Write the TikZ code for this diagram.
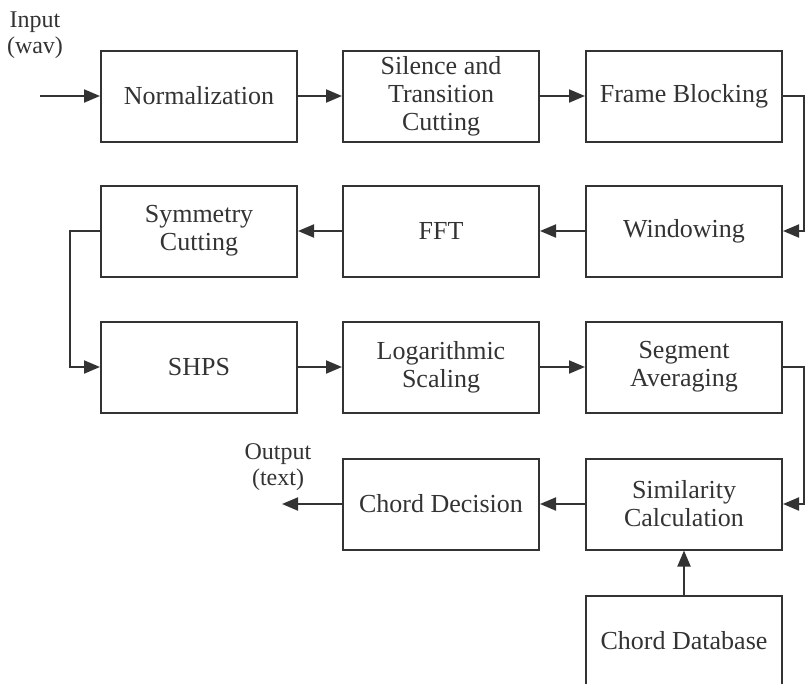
\documentclass[tikz,border=0pt]{standalone}
\usepackage{fontspec}
\setmainfont{Liberation Serif}
\usetikzlibrary{arrows.meta}
\definecolor{ink}{HTML}{333333}
\begin{document}
\begin{tikzpicture}[x=1pt,y=-1pt,
  blk/.style={draw=ink, line width=2pt, minimum width=196pt, minimum height=91pt, inner sep=0pt, align=center, text=ink,
    font=\fontsize{26}{28}\selectfont},
  lbl/.style={align=center, text=ink, inner sep=0pt, font=\fontsize{24}{26}\selectfont},
  conn/.style={draw=ink, line width=2pt},
  arr/.style={conn, -{Triangle[length=16pt,width=13pt]}}]
\useasboundingbox (0,0) rectangle (805,683);
\clip (0,0) rectangle (805,683);
\node[blk] (norm) at (199,96) {Normalization};
\node[blk] (sil) at (441,96) {Silence and\\Transition\\Cutting};
\node[blk] (frame) at (684,96) {Frame Blocking};
\node[blk] (sym) at (199,231) {Symmetry\\Cutting};
\node[blk] (fft) at (441,231) {FFT};
\node[blk] (win) at (684,231) {Windowing};
\node[blk] (shps) at (199,367) {SHPS};
\node[blk] (log) at (441,367) {Logarithmic\\Scaling};
\node[blk] (seg) at (684,367) {Segment\\Averaging};
\node[blk] (dec) at (441,504) {Chord Decision};
\node[blk] (simc) at (684,504) {Similarity\\Calculation};
\node[blk, minimum height=120pt] (db) at (684,656) {};
\node[text=ink, inner sep=0pt, font=\fontsize{26}{28}\selectfont] (dbt) at (684,641) {Chord Database};
\node[lbl] (inlbl) at (35,35) {Input\\(wav)};
\node[lbl] (outlbl) at (278,467) {Output\\(text)};
\coordinate (inst) at (40,96);
\coordinate (outend) at (282,504);
\coordinate (r1) at (804,96);
\coordinate (r2) at (804,231);
\coordinate (r3) at (804,367);
\coordinate (r4) at (804,504);
\coordinate (l1) at (70,231);
\coordinate (l2) at (70,367);
\draw[arr] (inst) -- (norm.west);
\draw[arr] (norm) -- (sil);
\draw[arr] (sil) -- (frame);
\draw[arr] (frame.east) -- (r1) -- (r2) -- (win.east);
\draw[arr] (win) -- (fft);
\draw[arr] (fft) -- (sym);
\draw[arr] (sym.west) -- (l1) -- (l2) -- (shps.west);
\draw[arr] (shps) -- (log);
\draw[arr] (log) -- (seg);
\draw[arr] (seg.east) -- (r3) -- (r4) -- (simc.east);
\draw[arr] (simc) -- (dec);
\draw[arr] (dec.west) -- (outend);
\draw[arr] (db.north) -- (simc.south);
\end{tikzpicture}
\end{document}
